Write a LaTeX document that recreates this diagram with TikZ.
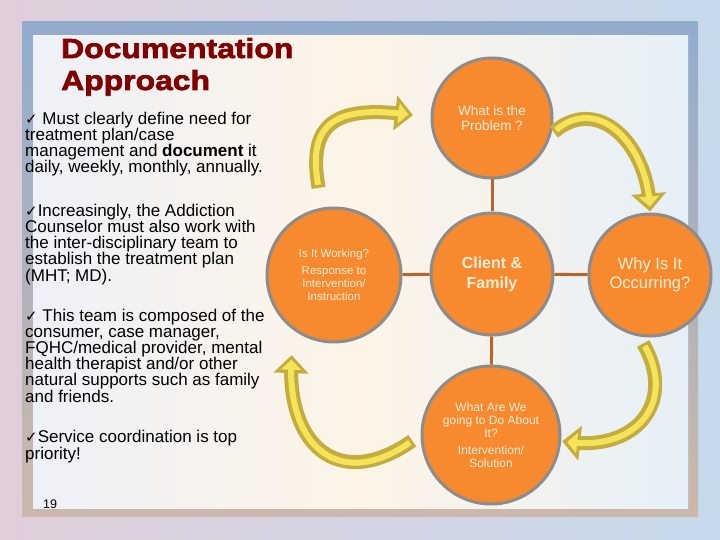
\documentclass[tikz,border=0pt]{standalone}
\usepackage{fontspec}
\setmainfont{Liberation Sans}
\newfontfamily\checkfont{DejaVu Sans}
\newfontfamily\titlefont[FakeStretch=1.16,FakeBold=2.5]{Liberation Sans Bold}
\usetikzlibrary{arrows.meta,bending}

\definecolor{bgleft}{RGB}{224,206,218}
\definecolor{bgright}{RGB}{198,218,236}
\definecolor{frametop}{RGB}{146,172,206}
\definecolor{framebot}{RGB}{204,184,172}
\definecolor{panelleft}{RGB}{238,241,248}
\definecolor{panelmid}{RGB}{253,244,230}
\definecolor{panelright}{RGB}{230,240,248}
\definecolor{circfill}{RGB}{247,137,47}
\definecolor{circedge}{RGB}{140,140,140}
\definecolor{circtext}{RGB}{255,238,214}
\definecolor{linkbrown}{RGB}{185,100,45}
\definecolor{arrowyel}{RGB}{245,228,90}
\definecolor{arrowolive}{RGB}{196,172,62}
\definecolor{titlered}{RGB}{128,0,0}

\newcommand{\chkmark}{{\checkfont\fontsize{15}{15}\selectfont\char"2713}}

\begin{document}
\begin{tikzpicture}[x=1pt,y=1pt,
		bubble/.style={circle,fill=circfill,draw=circedge,line width=3pt,align=center,text=circtext,inner sep=0pt},
		bodytext/.style={anchor=base west,align=left,inner sep=0pt,font=\fontsize{17}{16.2}\selectfont},
		titletext/.style={anchor=base west,inner sep=0pt,text=titlered,font=\titlefont\fontsize{27.5}{32}\selectfont},
		link/.style={draw=linkbrown,line width=3pt},
		arrowback/.style={draw=arrowolive,line width=14pt,-{Triangle[length=18pt,width=34pt]}},
		arrowfront/.style={draw=arrowyel,line width=6pt,-{Triangle[length=10pt,width=20pt]}}
		]
		
		% backdrop and frame
		\useasboundingbox (0,0) rectangle (720,-540);
		\fill[left color=bgleft,right color=bgright] (0,0) rectangle (720,-540);
		\fill[top color=frametop,bottom color=framebot] (22,-22) rectangle (698,-516);
		\fill[left color=panelleft,right color=panelright,middle color=panelmid] (33,-36) rectangle (688,-508);
		
		\node[titletext](title1) at (61,-58){Documentation};
		\node[titletext](title2) at (61,-90){Approach};
		
		% base of a multi-line node is its last line
		\node[bodytext](pointA) at (25,-173){\chkmark{} Must clearly define need for\\treatment plan/case\\management and \textbf{document} it\\daily, weekly, monthly, annually.};
		\node[bodytext](pointB) at (25,-281){\chkmark{}Increasingly, the Addiction\\Counselor must also work with\\the inter-disciplinary team to\\establish the treatment plan\\(MHT; MD).};
		\node[bodytext](pointC) at (25,-402){\chkmark{} This team is composed of the\\consumer, case manager,\\FQHC/medical provider, mental\\health therapist and/or other\\natural supports such as family\\and friends.};
		\node[bodytext](pointD) at (25,-459){\chkmark{}Service coordination is top\\priority!};
		\node[anchor=base west,inner sep=0pt,font=\fontsize{12.5}{14}\selectfont](pagenum) at (43,-508){19};
		
		% the cycle
		\node[bubble,minimum size=120pt,font=\fontsize{13.5}{14.5}\selectfont](T) at (492,-118){What is the\\Problem ?};
		\node[bubble,minimum size=122pt,font=\bfseries\fontsize{16}{20}\selectfont](C) at (492,-274){Client \&\\Family};
		\node[bubble,minimum size=134pt,font=\fontsize{11.5}{13}\selectfont](L) at (334,-275){Is It Working?\\[4pt]Response to\\Intervention/\\Instruction};
		\node[bubble,minimum size=122pt,font=\fontsize{16.5}{19}\selectfont](R) at (650,-275){Why Is It\\Occurring?};
		\node[bubble,minimum size=138pt,font=\fontsize{12}{13}\selectfont](B) at (491,-435){What Are We\\going to Do About\\It?\\[4pt]Intervention/\\Solution};
		
		\draw[link] (C) -- (T);
		\draw[link] (C) -- (L);
		\draw[link] (C) -- (R);
		\draw[link] (C) -- (B);
		
		\draw[arrowback,shorten <=20pt,shorten >=18pt] (L.100) to[out=100,in=170,looseness=1.7] (T.180);
		\draw[arrowfront,shorten <=23pt,shorten >=23pt] (L.100) to[out=100,in=170,looseness=1.7] (T.180);
		\draw[arrowback,shorten <=3pt,shorten >=1pt] (T.-15) to[out=40,in=90,looseness=1.3] (R.north);
		\draw[arrowfront,shorten <=6pt,shorten >=6pt] (T.-15) to[out=40,in=90,looseness=1.3] (R.north);
		\draw[arrowback,shorten <=8pt,shorten >=1pt] (R.-100) to[out=-60,in=-10,looseness=1.5] (B.-5);
		\draw[arrowfront,shorten <=11pt,shorten >=6pt] (R.-100) to[out=-60,in=-10,looseness=1.5] (B.-5);
		\draw[arrowback,shorten <=10pt,shorten >=25pt] (B.180) to[out=215,in=-100,looseness=1.7] (L.-125);
		\draw[arrowfront,shorten <=13pt,shorten >=30pt] (B.180) to[out=215,in=-100,looseness=1.7] (L.-125);
	\end{tikzpicture}
\end{document}
